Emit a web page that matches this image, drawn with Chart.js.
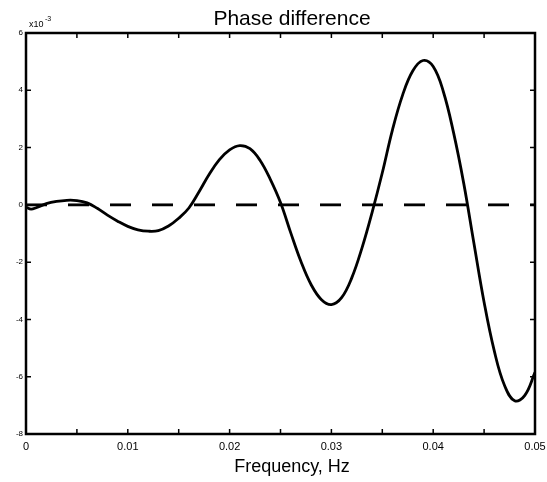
<!DOCTYPE html>
<html>
<head>
<meta charset="utf-8">
<title>Phase difference</title>
<script src="https://cdn.jsdelivr.net/npm/chart.js@4.4.1/dist/chart.umd.min.js"></script>
<style>
  body { margin: 0; background: #fff; }
</style>
</head>
<body>
<canvas id="myChart" width="547" height="482"></canvas>
<script>
// datos (eje y en unidades de 10^-3)
const frecuencias = [0, 0.0005, 0.001, 0.002, 0.003, 0.004, 0.005, 0.006, 0.007, 0.008, 0.009,
  0.010, 0.011, 0.012, 0.013, 0.014, 0.015, 0.016, 0.017, 0.018, 0.019,
  0.020, 0.021, 0.022, 0.023, 0.024, 0.025, 0.026, 0.027, 0.028, 0.029,
  0.030, 0.031, 0.032, 0.033, 0.034, 0.035, 0.036, 0.037, 0.038, 0.039,
  0.040, 0.041, 0.042, 0.043, 0.044, 0.045, 0.046, 0.047, 0.048, 0.049, 0.050];
const fase = [-0.08, -0.15, -0.1, 0.04, 0.12, 0.16, 0.15, 0.07, -0.12, -0.36, -0.57,
  -0.75, -0.87, -0.92, -0.9, -0.74, -0.47, -0.11, 0.46, 1.07, 1.58,
  1.92, 2.07, 1.96, 1.55, 0.89, 0.08, -0.97, -1.97, -2.78, -3.3,
  -3.48, -3.24, -2.55, -1.51, -0.26, 1.12, 2.62, 3.84, 4.68, 5.04,
  4.83, 3.95, 2.52, 0.75, -1.34, -3.4, -5.1, -6.3, -6.84, -6.65, -5.85];

// linea de referencia en cero
const ceroX = [0, 0.05];
const ceroY = [0, 0];

const marcasX = [0.005, 0.01, 0.015, 0.02, 0.025, 0.03, 0.035, 0.04, 0.045];
const marcasY = [-6, -4, -2, 0, 2, 4];

const titulo = "Phase difference";
const tituloX = "Frequency, Hz";

const fuente = '"Liberation Sans", Arial, sans-serif';

// dibuja el marco, las marcas hacia dentro y los textos
const marco = {
  id: 'marco',
  afterDraw(chart) {
    const { ctx, chartArea: a, scales: { x, y } } = chart;
    ctx.save();
    ctx.strokeStyle = '#000';
    ctx.lineWidth = 2.5;
    ctx.strokeRect(a.left, a.top, a.right - a.left, a.bottom - a.top);

    ctx.lineWidth = 1.5;
    ctx.beginPath();
    marcasX.forEach(v => {
      const px = x.getPixelForValue(v);
      ctx.moveTo(px, a.bottom); ctx.lineTo(px, a.bottom - 5);
      ctx.moveTo(px, a.top); ctx.lineTo(px, a.top + 5);
    });
    marcasY.forEach(v => {
      const py = y.getPixelForValue(v);
      ctx.moveTo(a.left, py); ctx.lineTo(a.left + 5, py);
      ctx.moveTo(a.right, py); ctx.lineTo(a.right - 5, py);
    });
    ctx.stroke();

    ctx.fillStyle = '#000';
    ctx.textAlign = 'center';
    ctx.textBaseline = 'alphabetic';
    ctx.font = '21px ' + fuente;
    ctx.fillText(titulo, 292, 25);
    ctx.font = '18px ' + fuente;
    ctx.fillText(tituloX, 292, 472);

    // factor de escala x10^-3
    ctx.textAlign = 'left';
    ctx.font = '9px ' + fuente;
    ctx.fillText('x10', 29, 27);
    ctx.font = '7px ' + fuente;
    ctx.fillText('-3', 45, 21);
    ctx.restore();
  }
};

const config = {
  type: 'line',
  data: {
    datasets: [{
      label: 'fase',
      data: frecuencias.map((f, i) => ({ x: f, y: fase[i] })),
      borderColor: '#000',
      borderWidth: 2.8,
      pointRadius: 0,
      tension: 0.4,
      fill: false
    }, {
      label: 'cero',
      data: ceroX.map((f, i) => ({ x: f, y: ceroY[i] })),
      borderColor: '#000',
      borderWidth: 2.8,
      borderDash: [21, 21],
      pointRadius: 0,
      fill: false
    }]
  },
  options: {
    responsive: false,
    animation: false,
    devicePixelRatio: 1,
    layout: { padding: { top: 33, right: 12, left: 0, bottom: 0 } },
    plugins: { legend: { display: false }, tooltip: { enabled: false }, title: { display: false } },
    scales: {
      x: {
        type: 'linear',
        min: 0,
        max: 0.05,
        offset: false,
        grid: { display: false, drawTicks: false },
        border: { display: false },
        ticks: {
          stepSize: 0.005,
          padding: 6,
          color: '#000',
          font: { size: 11, family: fuente },
          maxRotation: 0,
          autoSkip: false,
          callback: v => {
            const m = Math.round(v * 1000);
            if (m % 10 !== 0) return '';
            return m === 0 ? '0' : (m / 1000).toFixed(2);
          }
        },
        afterFit: s => { s.height = 48; s.paddingLeft = 0; s.paddingRight = 0; }
      },
      y: {
        min: -8,
        max: 6,
        grid: { display: false, drawTicks: false },
        border: { display: false },
        ticks: {
          stepSize: 2,
          padding: 3,
          color: '#000',
          font: { size: 8, family: fuente }
        },
        afterFit: s => { s.width = 26; s.paddingTop = 0; s.paddingBottom = 0; }
      }
    }
  },
  plugins: [marco]
};

const grafico = new Chart(document.getElementById('myChart'), config);
</script>
</body>
</html>
